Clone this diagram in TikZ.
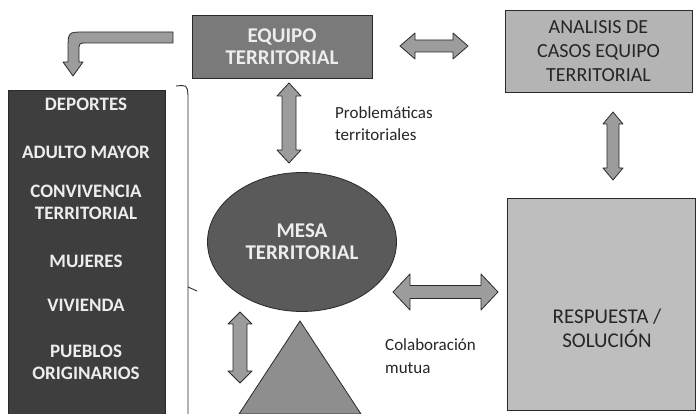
\documentclass[tikz,border=0pt]{standalone}
\usepackage{fontspec}
\setmainfont{Carlito}
\usetikzlibrary{shapes.geometric}
\definecolor{cEquipo}{HTML}{7A7A7A}
\definecolor{cTemas}{HTML}{3E3E3E}
\definecolor{cMesa}{HTML}{5A5A5A}
\definecolor{cAnal}{HTML}{B4B4B4}
\definecolor{cResp}{HTML}{BEBEBE}
\definecolor{cTri}{HTML}{8E8E8E}
\definecolor{cArr}{HTML}{9C9C9C}
\definecolor{cEdge}{HTML}{2A2A2A}
\definecolor{cLight}{HTML}{EDEDED}
\definecolor{cDark}{HTML}{262626}
\newcommand{\harrowshape}[6]{%
  \filldraw[blockarrow] (#1,#3) -- (#1+#6,#3-#5) -- (#1+#6,#3-#4) -- (#2-#6,#3-#4) -- (#2-#6,#3-#5) -- (#2,#3)
  -- (#2-#6,#3+#5) -- (#2-#6,#3+#4) -- (#1+#6,#3+#4) -- (#1+#6,#3+#5) -- cycle;}
\newcommand{\varrowshape}[6]{%
  \filldraw[blockarrow] (#3,#1) -- (#3-#5,#1+#6) -- (#3-#4,#1+#6) -- (#3-#4,#2-#6) -- (#3-#5,#2-#6) -- (#3,#2)
  -- (#3+#5,#2-#6) -- (#3+#4,#2-#6) -- (#3+#4,#1+#6) -- (#3+#5,#1+#6) -- cycle;}
\tikzset{
  box/.style={draw=cEdge, line width=0.8pt, rectangle, inner sep=2pt, align=center},
  blockarrow/.style={fill=cArr, draw=cEdge, line width=0.8pt, line join=round},
  lighttext/.style={text=cLight, align=center, inner sep=0pt},
  darktext/.style={text=cDark, align=center, inner sep=0pt},
  plain/.style={text=black!85, align=left, inner sep=0pt, anchor=north west},
}
\begin{document}
\begin{tikzpicture}[x=1pt,y=-1pt]
\useasboundingbox (0,0) rectangle (697,414);
\fill[white] (0,0) rectangle (697,414);
\clip (0,0) rectangle (697,414);

% boxes
\node[box, fill=cEquipo, minimum width=180, minimum height=63, text=cLight,
      font=\fontsize{21}{22}\selectfont\bfseries] (equipo) at (282,46.5) {EQUIPO\\TERRITORIAL};
\node[box, fill=cAnal, minimum width=187, minimum height=82, text=cDark,
      font=\fontsize{20}{24}\selectfont] (analisis) at (598.5,51) {ANALISIS DE\\CASOS EQUIPO\\TERRITORIAL};
\node[box, fill=cResp, minimum width=188, minimum height=212] (resp) at (601,304) {};
\node[darktext, font=\fontsize{21}{24}\selectfont] (resptext) at (607,328) {RESPUESTA /\\SOLUCIÓN};

% left list box
\node[box, fill=cTemas, minimum width=157, minimum height=340] (temas) at (87,260) {};
\begin{scope}[every node/.style={lighttext, font=\fontsize{19}{22}\selectfont\bfseries}]
\node (t1) at (86,104) {DEPORTES};
\node (t2) at (86,152) {ADULTO MAYOR};
\node (t3) at (86,202.5) {CONVIVENCIA\\TERRITORIAL};
\node (t4) at (86,261) {MUJERES};
\node (t5) at (86,305) {VIVIENDA};
\node (t6) at (86,362) {PUEBLOS\\ORIGINARIOS};
\end{scope}

% bracket
\draw[cEdge, line width=0.9pt] (176,86) .. controls (187,85) .. (188,95) -- (188,420);
\draw[cEdge, line width=0.9pt] (188,287) -- (197,291);

% ellipse
\node[ellipse, draw=cEdge, line width=0.8pt, fill=cMesa, minimum width=189, minimum height=139,
      text=cLight, align=center, font=\fontsize{21}{22}\selectfont\bfseries] (mesa) at (302,242) {MESA\\TERRITORIAL};

% triangle
\coordinate (apex) at (300,321);
\filldraw[fill=cTri, draw=cEdge, line width=0.8pt] (apex) -- (239,414) -- (361,414) -- cycle;

% block arrows
\harrowshape{400}{468}{46}{6}{13}{15}
\varrowshape{83}{163}{289}{7}{12}{13}
\varrowshape{112}{180}{613}{6}{10}{12}
\harrowshape{393}{498}{292}{6.5}{18}{17}
\varrowshape{312}{383}{240}{7}{12}{12}

% bent arrow
\filldraw[blockarrow] (173,32) -- (84,32) .. controls (68,32) .. (68,50) -- (68,62) -- (63,62) -- (73,76)
  -- (83,62) -- (79,62) -- (79,51) .. controls (79,43) .. (87,43) -- (173,43) -- cycle;

% free labels
\node[plain, font=\fontsize{17}{22}\selectfont] (prob) at (335,106) {Problemáticas\\territoriales};
\node[plain, font=\fontsize{17}{23}\selectfont] (colab) at (385,338) {Colaboración\\mutua};
\end{tikzpicture}
\end{document}
